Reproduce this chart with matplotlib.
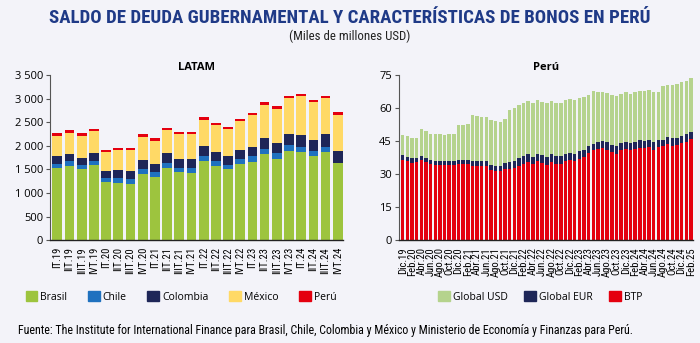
import numpy as np
import matplotlib.pyplot as plt
from matplotlib.patches import Patch
from matplotlib.ticker import FuncFormatter

plt.rcParams['font.family'] = ['Open Sans', 'DejaVu Sans']
narrow = ['Roboto Condensed', 'Liberation Sans Narrow', 'Roboto', 'DejaVu Sans']

##DATA##########################################################################
trimestres = ['IT.19', 'IIT.19', 'IIIT.19', 'IVT.19', 'IT.20', 'IIT.20', 'IIIT.20', 'IVT.20',
              'IT.21', 'IIT.21', 'IIIT.21', 'IVT.21', 'IT.22', 'IIT.22', 'IIIT.22', 'IVT.22',
              'IT.23', 'IIT.23', 'IIIT.23', 'IVT.23', 'IT.24', 'IIT.24', 'IIIT.24', 'IVT.24']
brasil = [1534, 1582, 1506, 1596, 1235, 1221, 1200, 1409, 1332, 1527, 1437, 1430,
          1673, 1575, 1499, 1610, 1652, 1818, 1728, 1895, 1874, 1777, 1860, 1645]
chile = [90, 98, 90, 84, 84, 98, 98, 104, 111, 104, 97, 95,
         117, 105, 97, 111, 125, 125, 118, 118, 104, 111, 118, 0]
colombia = [153, 152, 153, 173, 138, 159, 166, 187, 167, 208, 194, 198,
            202, 194, 194, 201, 194, 215, 215, 236, 243, 243, 264, 250]
mexico = [423, 444, 451, 458, 403, 424, 438, 493, 493, 493, 514, 518,
          555, 569, 563, 597, 673, 715, 722, 756, 826, 791, 763, 763]
peru = [70, 70, 62, 55, 48, 48, 48, 49, 55, 55, 55, 55,
        55, 48, 55, 49, 56, 56, 55, 49, 55, 55, 56, 62]

meses = ['Dic.19', 'Feb.20', 'Abr.20', 'Jun.20', 'Ago.20', 'Oct.20', 'Dic.20', 'Feb.21',
         'Abr.21', 'Jun.21', 'Ago.21', 'Oct.21', 'Dic.21', 'Feb.22', 'Abr.22', 'Jun.22',
         'Ago.22', 'Oct.22', 'Dic.22', 'Feb.23', 'Abr.23', 'Jun.23', 'Ago.23', 'Oct.23',
         'Dic.23', 'Feb.24', 'Abr.24', 'Jun.24', 'Ago.24', 'Oct.24', 'Dic.24', 'Feb.25']
btp = [36.6, 35.9, 35.1, 35.6, 36.2, 35.4, 34.4, 34.2, 34.2, 34.2, 34.2, 34.2,
       34.5, 34.5, 34.5, 33.9, 33.6, 33.6, 33.6, 31.8, 31.4, 31.2, 32.1, 32.4,
       32.9, 33.9, 34.7, 35.6, 34.4, 35.9, 35.1, 34.2, 35.3, 34.4, 34.4, 35.9,
       36.2, 35.9, 36.9, 37.7, 39.6, 41.1, 41.5, 41.7, 40.8, 39.9, 39.3, 40.8,
       41.4, 40.8, 41.4, 41.9, 41.7, 42.2, 41.1, 42.5, 42.6, 43.6, 42.9, 43.2,
       44.2, 44.8, 45.9]
global_eur = [2.0, 1.9, 2.0, 1.6, 1.9, 1.8, 1.8, 1.9, 1.9, 1.9, 1.9, 1.9,
              1.9, 1.9, 1.9, 2.0, 2.3, 2.3, 2.3, 2.3, 2.3, 2.4, 2.9, 3.0,
              3.0, 3.5, 3.4, 3.4, 3.4, 3.4, 3.5, 3.6, 3.7, 3.7, 3.7, 3.4,
              3.6, 3.4, 3.5, 3.4, 3.0, 2.7, 3.3, 3.4, 3.6, 3.4, 3.6, 3.3,
              3.3, 3.3, 3.3, 3.4, 3.3, 3.5, 3.6, 3.2, 3.1, 3.2, 3.3, 3.3,
              3.3, 3.5, 3.3]
total_peru = [47.8, 47.1, 46.3, 46.6, 50.4, 49.6, 48.4, 48.4, 48.4, 48.0, 48.3, 48.4,
              52.3, 52.3, 52.8, 56.7, 56.2, 56.1, 56.1, 54.6, 54.3, 53.8, 55.0, 59.3,
              60.2, 61.3, 62.3, 63.1, 62.3, 63.5, 62.9, 62.5, 63.2, 62.5, 62.5, 63.5,
              64.0, 63.7, 64.6, 65.0, 65.9, 67.7, 67.4, 67.5, 66.8, 65.8, 65.3, 66.5,
              67.4, 66.5, 67.2, 67.7, 67.7, 68.3, 67.1, 67.1, 70.0, 70.7, 70.4, 71.0,
              72.0, 72.5, 73.5]
################################################################################

c_brasil = '#9DC43E'
c_chile = '#1F71BF'
c_navy = '#1E2658'
c_mexico = '#FFD966'
c_red = '#E4000F'
c_usd = '#B5D38D'
bg = '#F3F3F9'

brasil = np.array(brasil, dtype=float)
chile = np.array(chile, dtype=float)
colombia = np.array(colombia, dtype=float)
mexico = np.array(mexico, dtype=float)
peru = np.array(peru, dtype=float)
btp = np.array(btp)
global_eur = np.array(global_eur)
global_usd = np.array(total_peru) - btp - global_eur

fig = plt.figure(figsize=(7, 3.43), dpi=100, facecolor=bg)
ax1 = fig.add_axes([0.0714, 0.300, 0.419, 0.481], facecolor=bg)
ax2 = fig.add_axes([0.570, 0.300, 0.420, 0.481], facecolor=bg)

fig.text(0.5, 0.947, 'SALDO DE DEUDA GUBERNAMENTAL Y CARACTERÍSTICAS DE BONOS EN PERÚ',
         ha='center', va='center', fontsize=13.6, fontweight='bold', color='#1F3A87',
         family=narrow)
fig.text(0.5, 0.893, '(Miles de millones USD)', ha='center', va='center',
         fontsize=9.3, color='#222222', family=narrow)

# LATAM, apilado por país
x1 = np.arange(len(trimestres))
w1 = 0.8
bottom = np.zeros(len(trimestres))
for vals, col in [(brasil, c_brasil), (chile, c_chile), (colombia, c_navy),
                  (mexico, c_mexico), (peru, c_red)]:
    ax1.bar(x1, vals, w1, bottom=bottom, color=col, edgecolor='none')
    bottom += vals

ax1.set_ylim(0, 3500)
ax1.set_xlim(-0.6, 23.45)
ax1.set_yticks(np.arange(0, 3501, 500))
ax1.yaxis.set_major_formatter(FuncFormatter(lambda v, p: f'{int(v):,}'.replace(',', ' ')))
ax1.set_xticks(x1)
ax1.set_xticklabels(trimestres, rotation=90, fontsize=7.7, family=narrow)
ax1.set_title('LATAM', fontsize=8, fontweight='bold', pad=4)
ax1.legend(handles=[Patch(color=c_brasil, label='Brasil'), Patch(color=c_chile, label='Chile'),
                    Patch(color=c_navy, label='Colombia'), Patch(color=c_mexico, label='México'),
                    Patch(color=c_red, label='Perú')],
           loc='center', bbox_to_anchor=(0.447, -0.345), ncol=5, frameon=False, fontsize=7.5,
           handlelength=1.1, handleheight=1.1, handletextpad=0.3, columnspacing=2.0)

# Perú, por tipo de bono
x2 = np.arange(len(btp))
w2 = 0.75
ax2.bar(x2, btp, w2, color=c_red, edgecolor='none')
ax2.bar(x2, global_eur, w2, bottom=btp, color=c_navy, edgecolor='none')
ax2.bar(x2, global_usd, w2, bottom=btp + global_eur, color=c_usd, edgecolor='none')

ax2.set_ylim(0, 75)
ax2.set_xlim(-0.8, 62.45)
ax2.set_yticks(np.arange(0, 76, 15))
ax2.set_xticks(x2[::2])
ax2.set_xticklabels(meses, rotation=90, fontsize=7.7, family=narrow)
ax2.set_title('Perú', fontsize=8, fontweight='bold', pad=4)
ax2.legend(handles=[Patch(color=c_usd, label='Global USD'), Patch(color=c_navy, label='Global EUR'),
                    Patch(color=c_red, label='BTP')],
           loc='center', bbox_to_anchor=(0.48, -0.345), ncol=3, frameon=False, fontsize=7.5,
           handlelength=1.1, handleheight=1.1, handletextpad=0.3, columnspacing=1.6)

for ax in (ax1, ax2):
    for s in ('top', 'right'):
        ax.spines[s].set_visible(False)
    ax.spines['left'].set_color('#555555')
    ax.spines['bottom'].set_color('#222222')
    ax.spines['bottom'].set_linewidth(1.0)
    ax.tick_params(axis='y', labelsize=8, length=3, color='#555555', pad=2)
    ax.tick_params(axis='x', length=0, pad=5)

fig.text(0.026, 0.037, 'Fuente: The Institute for International Finance para Brasil, Chile, Colombia y México '
         'y Ministerio de Economía y Finanzas para Perú.', ha='left', va='center', fontsize=8.6,
         family=narrow)

fig.savefig('out.png', dpi=100, facecolor=bg)
